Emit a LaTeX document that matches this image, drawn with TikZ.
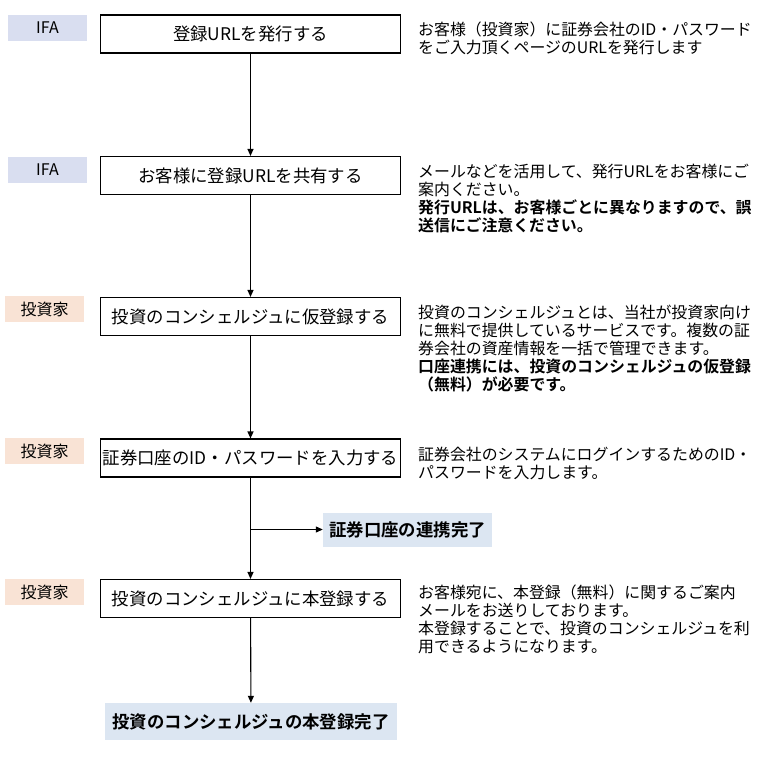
\documentclass[tikz,border=0pt]{standalone}
\usepackage{fontspec}
\setmainfont{Noto Sans CJK JP}[BoldFont={Noto Sans CJK JP Bold}]
\usetikzlibrary{arrows.meta}
\definecolor{ifafill}{HTML}{D9DEF0}
\definecolor{invfill}{HTML}{F9E3D5}
\definecolor{donefill}{HTML}{DCE6F2}
\tikzset{
  stepbox/.style={draw=black, line width=1.1pt, minimum width=300pt, minimum height=38pt, inner sep=0pt, font=\fontsize{17.4}{18}\selectfont},
  tagifa/.style={fill=ifafill, minimum width=79pt, minimum height=26pt, inner sep=0pt, font=\fontsize{16}{18}\selectfont},
  taginv/.style={fill=invfill, minimum width=79pt, minimum height=26pt, inner sep=0pt, font=\fontsize{16}{18}\selectfont},
  desc/.style={anchor=north west, align=left, inner sep=0pt, font=\fontsize{15.9}{18}\selectfont},
  donebox/.style={fill=donefill, inner sep=0pt, font=\bfseries\fontsize{17.4}{18}\selectfont},
  flow/.style={line width=1.1pt, -{Triangle[length=7pt,width=6pt]}},
  plain/.style={line width=1.1pt}
}
\begin{document}
\begin{tikzpicture}[x=1pt,y=-1pt]
\useasboundingbox (0,0) rectangle (772,766);
% tags
\node[tagifa] (t1) at (47.5,28) {IFA};
\node[tagifa] (t2) at (47.5,170) {IFA};
\node[taginv] (t3) at (44.5,309) {投資家};
\node[taginv] (t4) at (44.5,451) {投資家};
\node[taginv] (t5) at (44.5,592) {投資家};
% steps
\node[stepbox] (s1) at (250.5,34) {登録URLを発行する};
\node[stepbox] (s2) at (250.5,175.5) {お客様に登録URLを共有する};
\node[stepbox] (s3) at (250.5,316.5) {投資のコンシェルジュに仮登録する};
\node[stepbox] (s4) at (250.5,458) {証券口座のID・パスワードを入力する};
\node[stepbox] (s5) at (250.5,598.5) {投資のコンシェルジュに本登録する};
% results
\node[donebox, minimum width=169pt, minimum height=34pt] (r1) at (407.5,529.5) {証券口座の連携完了};
\node[donebox, minimum width=292pt, minimum height=37pt] (r2) at (251,721.5) {投資のコンシェルジュの本登録完了};
% descriptions
\node[desc] (d1) at (418,21.5) {お客様（投資家）に証券会社のID・パスワード\\をご入力頂くページのURLを発行します};
\node[desc] (d2) at (418,163.5) {メールなどを活用して、発行URLをお客様にご\\案内ください。\\\textbf{発行URLは、お客様ごとに異なりますので、誤}\\\textbf{送信にご注意ください。}};
\node[desc] (d3) at (418,304.5) {投資のコンシェルジュとは、当社が投資家向け\\に無料で提供しているサービスです。複数の証\\券会社の資産情報を一括で管理できます。\\\textbf{口座連携には、投資のコンシェルジュの仮登録}\\\textbf{（無料）が必要です。}};
\node[desc] (d4) at (418,446.5) {証券会社のシステムにログインするためのID・\\パスワードを入力します。};
\node[desc] (d5) at (418,584.5) {お客様宛に、本登録（無料）に関するご案内\\メールをお送りしております。\\本登録することで、投資のコンシェルジュを利\\用できるようになります。};
% connectors
\draw[flow] (s1) -- (s2);
\draw[flow] (s2) -- (s3);
\draw[flow] (s3) -- (s4);
\draw[flow] (s4) -- (s5);
\draw[flow] (s5) -- (r2);
\coordinate (br) at (s4.south |- r1.west);
\draw[flow] (br) -- (r1.west);
\end{tikzpicture}
\end{document}
